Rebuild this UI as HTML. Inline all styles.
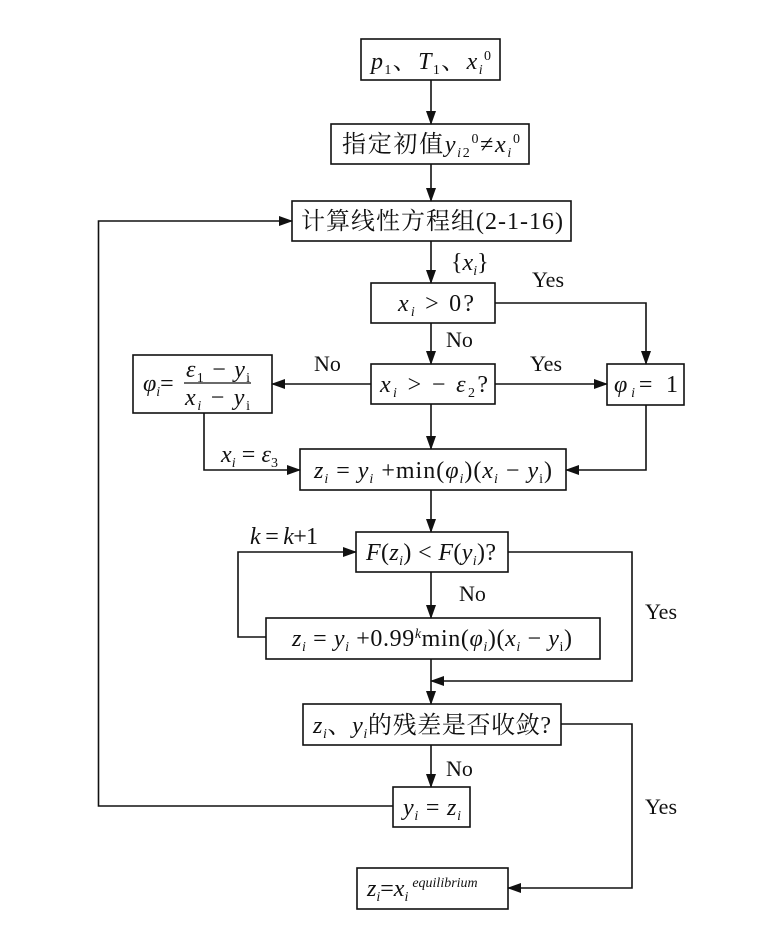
<!DOCTYPE html>
<html><head><meta charset="utf-8"><style>
html,body{margin:0;padding:0;background:#fff;}
svg{display:block;}
svg text{font-family:"Liberation Serif","Noto Serif CJK SC",serif;font-size:24px;fill:#111;}
svg .i{font-style:italic;}
svg .s{font-size:14px;}
svg .l{font-size:22px;}
</style></head><body>
<svg width="760" height="926" viewBox="0 0 760 926" xmlns="http://www.w3.org/2000/svg" font-family="Liberation Serif, Noto Serif CJK SC, serif">
<defs><marker id="a" markerWidth="14" markerHeight="10" refX="13" refY="5" orient="auto" markerUnits="userSpaceOnUse"><path d="M0,0 L14,5 L0,10 z" fill="#111"/></marker></defs>
<g fill="none" stroke="#111" stroke-width="1.6">
<rect x="361" y="39" width="139" height="41"/>
<rect x="331" y="124" width="198" height="40"/>
<rect x="292" y="201" width="279" height="40"/>
<rect x="371" y="283" width="124" height="40"/>
<rect x="371" y="364" width="124" height="40"/>
<rect x="607" y="364" width="77" height="41"/>
<rect x="133" y="355" width="139" height="58"/>
<rect x="300" y="449" width="266" height="41"/>
<rect x="356" y="532" width="152" height="40"/>
<rect x="266" y="618" width="334" height="41"/>
<rect x="303" y="704" width="258" height="41"/>
<rect x="393" y="787" width="77" height="40"/>
<rect x="357" y="868" width="151" height="41"/>
<path d="M431,80 V124" marker-end="url(#a)"/>
<path d="M431,164 V201" marker-end="url(#a)"/>
<path d="M431,241 V283" marker-end="url(#a)"/>
<path d="M431,323 V364" marker-end="url(#a)"/>
<path d="M495,303 H646 V364" marker-end="url(#a)"/>
<path d="M495,384 H607" marker-end="url(#a)"/>
<path d="M371,384 H272" marker-end="url(#a)"/>
<path d="M431,404 V449" marker-end="url(#a)"/>
<path d="M204,413 V470 H300" marker-end="url(#a)"/>
<path d="M646,405 V470 H566" marker-end="url(#a)"/>
<path d="M431,490 V532" marker-end="url(#a)"/>
<path d="M431,572 V618" marker-end="url(#a)"/>
<path d="M266,637 H238 V552 H356" marker-end="url(#a)"/>
<path d="M508,552 H632 V681 H431" marker-end="url(#a)"/>
<path d="M431,659 V704" marker-end="url(#a)"/>
<path d="M431,745 V787" marker-end="url(#a)"/>
<path d="M393,806 H98.5 V221 H292" marker-end="url(#a)"/>
<path d="M561,724 H632 V888 H508" marker-end="url(#a)"/>
</g>
<text x="371" y="69" textLength="120" lengthAdjust="spacing"><tspan class="i">p</tspan><tspan class="s" dy="5">1</tspan><tspan dy="-5">、</tspan><tspan class="i">T</tspan><tspan class="s" dy="5">1</tspan><tspan dy="-5">、</tspan><tspan class="i">x</tspan><tspan class="s i" dy="5">i</tspan><tspan class="s" dy="-14">0</tspan></text>
<text x="342" y="152" textLength="178" lengthAdjust="spacing">指定初值<tspan class="i">y</tspan><tspan class="s" dy="5"><tspan class="i">i</tspan>2</tspan><tspan class="s" dy="-14">0</tspan><tspan dy="9">≠</tspan><tspan class="i">x</tspan><tspan class="s i" dy="5">i</tspan><tspan class="s" dy="-14">0</tspan></text>
<text x="301" y="229" textLength="262" lengthAdjust="spacing">计算线性方程组(2-1-16)</text>
<text x="451" y="270" font-size="20">{<tspan class="i">x</tspan><tspan class="s i" dy="5">i</tspan><tspan dy="-5">}</tspan></text>
<text class="l" x="532" y="287">Yes</text>
<text x="398" y="311" textLength="76" lengthAdjust="spacing"><tspan class="i">x</tspan><tspan class="s i" dy="5">i</tspan><tspan dy="-5"> &gt; 0?</tspan></text>
<text class="l" x="446" y="347">No</text>
<text class="l" x="314" y="371">No</text>
<text class="l" x="530" y="371">Yes</text>
<text x="380" y="392" textLength="108" lengthAdjust="spacing"><tspan class="i">x</tspan><tspan class="s i" dy="5">i</tspan><tspan dy="-5"> &gt; − </tspan><tspan class="i">ε</tspan><tspan class="s" dy="5">2</tspan><tspan dy="-5">?</tspan></text>
<text x="614" y="392" textLength="64" lengthAdjust="spacing"><tspan class="i">φ</tspan><tspan class="s i" dy="5">i</tspan><tspan dy="-5">= 1</tspan></text>
<text x="143" y="391"><tspan class="i">φ</tspan><tspan class="s i" dy="5">i</tspan><tspan dy="-5">=</tspan></text>
<line x1="184" y1="383" x2="251" y2="383" stroke="#111" stroke-width="1.2"/>
<text x="186" y="377" textLength="64" lengthAdjust="spacing"><tspan class="i">ε</tspan><tspan class="s" dy="5">1</tspan><tspan dy="-5"> − </tspan><tspan class="i">y</tspan><tspan class="s" dy="5">i</tspan></text>
<text x="185" y="405" textLength="65" lengthAdjust="spacing"><tspan class="i">x</tspan><tspan class="s i" dy="5">i</tspan><tspan dy="-5"> − </tspan><tspan class="i">y</tspan><tspan class="s" dy="5">i</tspan></text>
<text x="221" y="462" textLength="57" lengthAdjust="spacing"><tspan class="i">x</tspan><tspan class="s i" dy="5">i</tspan><tspan dy="-5"> = </tspan><tspan class="i">ε</tspan><tspan class="s" dy="5">3</tspan></text>
<text x="314" y="478" textLength="238" lengthAdjust="spacing"><tspan class="i">z</tspan><tspan class="s i" dy="5">i</tspan><tspan dy="-5"> = </tspan><tspan class="i">y</tspan><tspan class="s i" dy="5">i</tspan><tspan dy="-5"> +min(</tspan><tspan class="i">φ</tspan><tspan class="s i" dy="5">i</tspan><tspan dy="-5">)(</tspan><tspan class="i">x</tspan><tspan class="s i" dy="5">i</tspan><tspan dy="-5"> − </tspan><tspan class="i">y</tspan><tspan class="s" dy="5">i</tspan><tspan dy="-5">)</tspan></text>
<text x="250" y="544" font-size="18" textLength="68" lengthAdjust="spacing"><tspan class="i">k</tspan> = <tspan class="i">k</tspan>+1</text>
<text x="366" y="560" textLength="130" lengthAdjust="spacing"><tspan class="i">F</tspan>(<tspan class="i">z</tspan><tspan class="s i" dy="5">i</tspan><tspan dy="-5">) &lt; </tspan><tspan class="i">F</tspan>(<tspan class="i">y</tspan><tspan class="s i" dy="5">i</tspan><tspan dy="-5">)?</tspan></text>
<text class="l" x="459" y="601">No</text>
<text class="l" x="645" y="619">Yes</text>
<text x="292" y="646" textLength="280" lengthAdjust="spacing"><tspan class="i">z</tspan><tspan class="s i" dy="5">i</tspan><tspan dy="-5"> = </tspan><tspan class="i">y</tspan><tspan class="s i" dy="5">i</tspan><tspan dy="-5"> +0.99</tspan><tspan class="s i" dy="-8">k</tspan><tspan dy="8">min(</tspan><tspan class="i">φ</tspan><tspan class="s i" dy="5">i</tspan><tspan dy="-5">)(</tspan><tspan class="i">x</tspan><tspan class="s i" dy="5">i</tspan><tspan dy="-5"> − </tspan><tspan class="i">y</tspan><tspan class="s" dy="5">i</tspan><tspan dy="-5">)</tspan></text>
<text x="313" y="733" textLength="238" lengthAdjust="spacing"><tspan class="i">z</tspan><tspan class="s i" dy="5">i</tspan><tspan dy="-5">、</tspan><tspan class="i">y</tspan><tspan class="s i" dy="5">i</tspan><tspan dy="-5">的残差是否收敛?</tspan></text>
<text class="l" x="446" y="776">No</text>
<text class="l" x="645" y="814">Yes</text>
<text x="403" y="815" textLength="58" lengthAdjust="spacing"><tspan class="i">y</tspan><tspan class="s i" dy="5">i</tspan><tspan dy="-5"> = </tspan><tspan class="i">z</tspan><tspan class="s i" dy="5">i</tspan></text>
<text x="367" y="896"><tspan class="i">z</tspan><tspan class="s i" dy="5">i</tspan><tspan dy="-5">=</tspan><tspan class="i">x</tspan><tspan class="s i" dy="5">i</tspan><tspan class="s i" dy="-14" dx="4">equilibrium</tspan></text>
</svg>
</body></html>
